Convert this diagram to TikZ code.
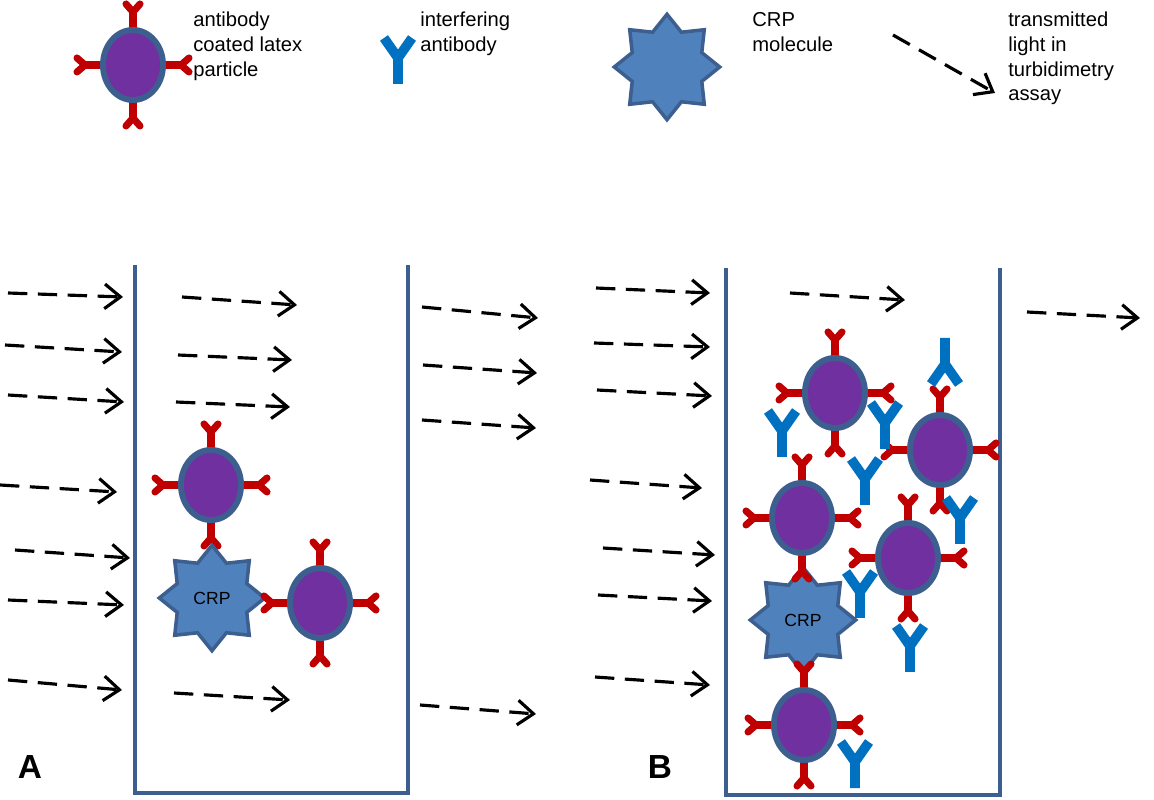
\documentclass[tikz,border=0pt]{standalone}
\usepackage{fontspec}
\setmainfont{Liberation Sans}
\usetikzlibrary{shapes.geometric,arrows.meta}
\definecolor{bbox}{HTML}{3D5F8F}
\definecolor{purp}{HTML}{7030A0}
\definecolor{abred}{HTML}{C00000}
\definecolor{ifblue}{HTML}{0070C0}
\definecolor{crpfill}{HTML}{4F81BD}
\tikzset{
 x=0.02cm,y=-0.02cm,
 light/.style={black,line width=1.8pt,dash pattern=on 11pt off 6pt,-{Straight Barb[length=9pt,width=14pt,line width=1.8pt]}},
 wall/.style={bbox,line width=2.8pt},
 lbl/.style={font=\fontsize{11.5}{14}\selectfont,align=left,anchor=north west,inner sep=0},
 crp/.style={star,star points=8,star point ratio=1.4,fill=crpfill,draw=bbox,line width=2pt,minimum width=60pt,minimum height=50pt,inner sep=0,font=\fontsize{10}{12}\selectfont},
 pics/particle/.style={code={
   \foreach \r/\d in {0/38,90/33,180/38,270/33}{
     \begin{scope}[rotate=\r]
     \draw[abred,line width=4.5pt] (0,{\d-4}) -- (0,{\d+17});
     \draw[abred,line width=4pt,line cap=round] (0,{\d+15}) -- (-7,{\d+23}) (0,{\d+15}) -- (7,{\d+23});
     \end{scope}}
   \fill[bbox] (0,0) ellipse [x radius=33,y radius=38];
   \fill[purp] (0,0) ellipse [x radius=27,y radius=32];}},
 pics/iab/.style={code={
   \draw[ifblue,line width=5.5pt] (0,24) -- (0,-2) (-14,-22) -- (0,-2) -- (14,-22);}}
}
\begin{document}
\begin{tikzpicture}
\useasboundingbox (0,0) rectangle (1154,800);
% legend
\pic (L1) at (133,65) {particle};
\node[lbl] (t1) at (193,12) {antibody\\coated latex\\particle};
\pic (L2) at (398,60) {iab};
\node[lbl] (t2) at (420,12) {interfering\\antibody};
\node[crp] (L3) at (667,67) {};
\node[lbl] (t3) at (752,12) {CRP\\molecule};
\coordinate (ls) at (893,35); \coordinate (le) at (995,93);
\draw[light] (ls) -- (le);
\node[lbl] (t4) at (1008,12) {transmitted\\light in\\turbidimetry\\assay};
% containers
\coordinate (a1) at (135,265); \coordinate (a2) at (135,793); \coordinate (a3) at (408,793); \coordinate (a4) at (408,265);
\draw[wall] (a1) -- (a2) -- (a3) -- (a4);
\coordinate (b1) at (726,268); \coordinate (b2) at (726,795); \coordinate (b3) at (1000,795); \coordinate (b4) at (1000,268);
\draw[wall] (b1) -- (b2) -- (b3) -- (b4);
% arrows
\foreach \i/\xa/\ya/\xb/\yb in {1/8/293/123/297,2/5/345/122/352,3/8/395/124/402,4/0/485/117/492,5/15/550/130/558,6/8/600/124/605,7/8/680/122/690,
 8/182/297/297/305,9/178/355/292/360,10/176/402/290/407,11/174/693/290/700,
 12/422/307/538/318,13/423/365/537/373,14/422/420/536/428,15/420/705/536/714,
 16/596/288/710/293,17/594/343/710/347,18/597/390/712/396,19/590/480/702/488,20/603/548/715/555,21/598/595/712/601,22/595/677/710/685,
 23/790/293/905/300,24/1027/312/1140/318}{
 \coordinate (s\i) at (\xa,\ya); \coordinate (e\i) at (\xb,\yb);
 \draw[light] (s\i) -- (e\i);}
% box A
\pic (pa1) at (211,485) {particle};
\node[crp] (ca) at (212,598) {CRP};
\pic (pa2) at (320,603) {particle};
% box B
\node[crp] (cb) at (803,620) {CRP};
\pic (pb1) at (835,393) {particle};
\pic (pb2) at (940,450) {particle};
\pic (pb3) at (802,518) {particle};
\pic (pb4) at (908,558) {particle};
\pic (pb5) at (804,725) {particle};
\pic (i1) at (782,433) {iab};
\pic (i2) at (885,425) {iab};
\pic (i3) at (865,481) {iab};
\pic (i4) at (960,520) {iab};
\pic (i5) at (860,594) {iab};
\pic (i6) at (910,648) {iab};
\pic (i7) at (855,764) {iab};
\pic[rotate=180] (i8) at (945,362) {iab};
% labels
\node[font=\bfseries\fontsize{19}{22}\selectfont] (A) at (30,767) {A};
\node[font=\bfseries\fontsize{19}{22}\selectfont] (B) at (660,767) {B};
\end{tikzpicture}
\end{document}
